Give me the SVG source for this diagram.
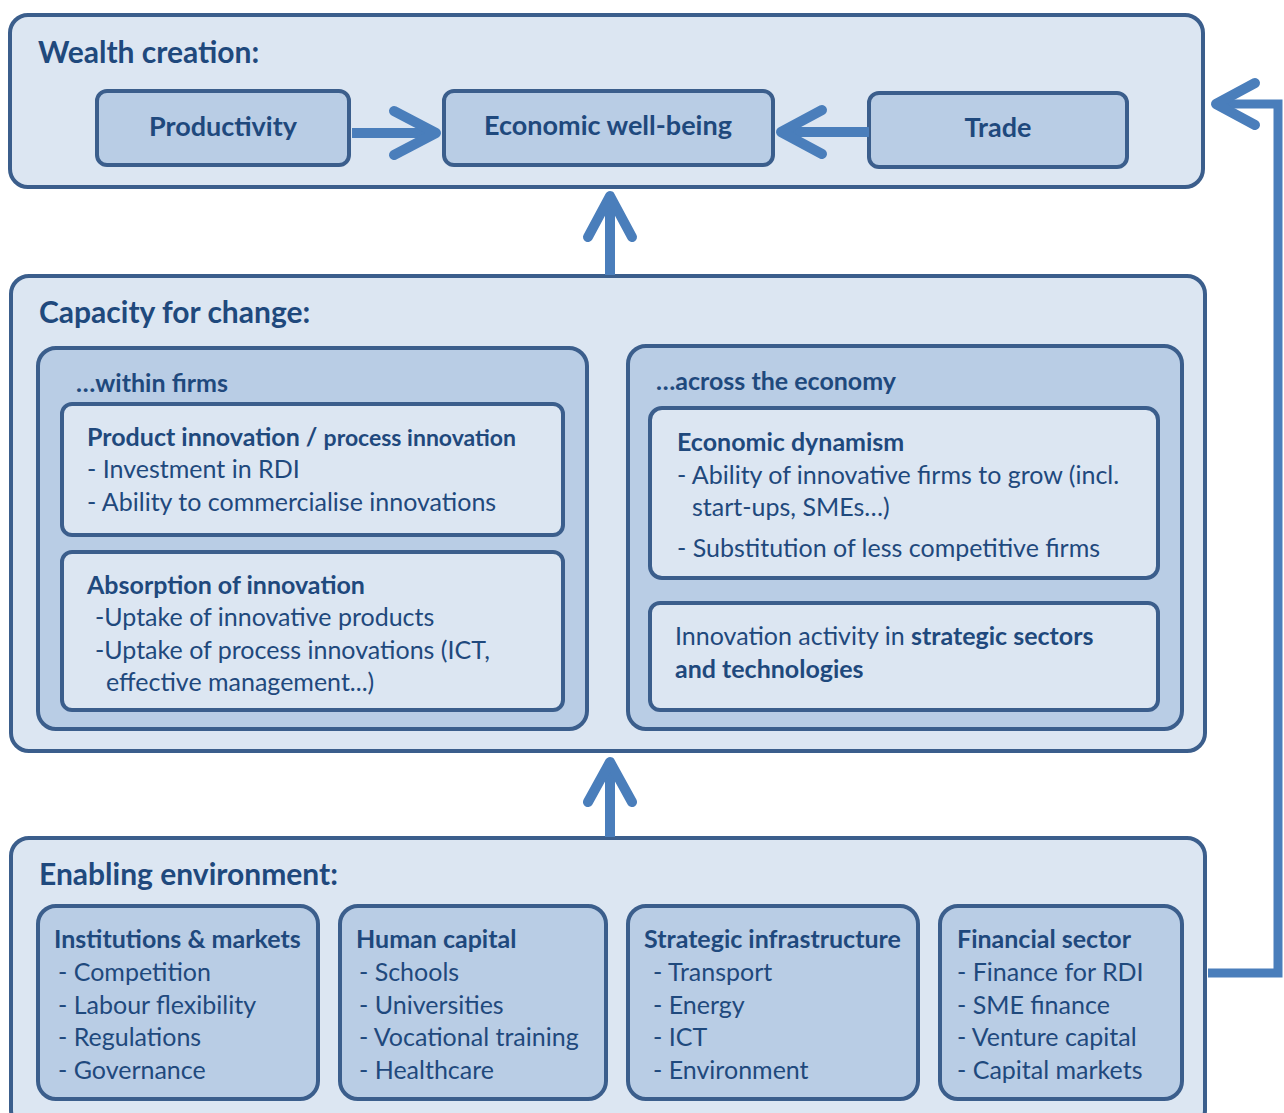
<svg xmlns="http://www.w3.org/2000/svg" width="1284" height="1113" viewBox="0 0 1284 1113">
<style>
text{font-family:Lato,"Open Sans","Liberation Sans",sans-serif;fill:#1F497D}
.outer{fill:#DCE6F2;stroke:#3B5E8C;stroke-width:4}
.mid{fill:#B9CDE5;stroke:#3B5E8C;stroke-width:4}
.inner{fill:#DCE6F2;stroke:#3B5E8C;stroke-width:4}
.h1{font-size:30px;font-weight:bold}
.h2{font-size:25px;font-weight:bold}
.t{font-size:25px}
.c{font-size:27px;font-weight:bold;text-anchor:middle}
.conn{fill:none;stroke:#4A7EBB;stroke-width:10;stroke-linecap:round;stroke-linejoin:round}
.line{fill:none;stroke:#4A7EBB;stroke-width:10}
</style>
<g id="wealth">
<rect class="outer" x="10" y="15" width="1193" height="172" rx="18"/>
<text class="h1" x="38" y="63">Wealth creation:</text>
</g>
<g id="productivity"><rect class="mid" x="97" y="91" width="252" height="74" rx="10"/><text class="c" x="223" y="136">Productivity</text></g>
<g id="wellbeing"><rect class="mid" x="444" y="91" width="329" height="74" rx="10"/><text class="c" x="608" y="135">Economic well-being</text></g>
<g id="trade"><rect class="mid" x="869" y="93" width="258" height="74" rx="10"/><text class="c" x="998" y="137">Trade</text></g>

<g id="capacity">
<rect class="outer" x="11" y="276" width="1194" height="475" rx="18"/>
<text class="h1" x="39" y="323">Capacity for change:</text>
</g>
<g id="within">
<rect class="mid" x="38" y="348" width="549" height="381" rx="18"/>
<text class="h2" x="76" y="392">…within firms</text>
</g>
<g id="product">
<rect class="inner" x="62" y="404" width="501" height="131" rx="10"/>
<text class="h2" x="87" y="446">Product innovation / <tspan font-size="23">process innovation</tspan></text>
<text class="t" x="87" y="478">- Investment in RDI</text>
<text class="t" x="87" y="511">- Ability to commercialise innovations</text>
</g>
<g id="absorption">
<rect class="inner" x="62" y="552" width="501" height="158" rx="10"/>
<text class="h2" x="87" y="594">Absorption of innovation</text>
<text class="t" x="95" y="626">-Uptake of innovative products</text>
<text class="t" x="95" y="659">-Uptake of process innovations (ICT,</text>
<text class="t" x="106" y="691">effective management...)</text>
</g>
<g id="across">
<rect class="mid" x="628" y="346" width="554" height="383" rx="18"/>
<text class="h2" x="656" y="390">…across the economy</text>
</g>
<g id="dynamism">
<rect class="inner" x="650" y="408" width="508" height="170" rx="12"/>
<text class="h2" x="677" y="451">Economic dynamism</text>
<text class="t" x="677" y="484">- Ability of innovative firms to grow (incl.</text>
<text class="t" x="692" y="516">start-ups, SMEs…)</text>
<text class="t" x="677" y="557">- Substitution of less competitive firms</text>
</g>
<g id="strategic">
<rect class="inner" x="650" y="603" width="508" height="107" rx="10"/>
<text class="t" x="675" y="645">Innovation activity in <tspan font-weight="bold">strategic sectors</tspan></text>
<text class="t" x="675" y="678" font-weight="bold">and technologies</text>
</g>

<g id="enabling">
<rect class="outer" x="11" y="838" width="1194" height="290" rx="18"/>
<text class="h1" x="39" y="885">Enabling environment:</text>
</g>
<g id="institutions">
<rect class="mid" x="38" y="906" width="280" height="193" rx="18"/>
<text class="h2" x="54" y="948">Institutions &amp; markets</text>
<text class="t" x="58" y="981">- Competition</text>
<text class="t" x="58" y="1014">- Labour flexibility</text>
<text class="t" x="58" y="1046">- Regulations</text>
<text class="t" x="58" y="1079">- Governance</text>
</g>
<g id="human">
<rect class="mid" x="340" y="906" width="266" height="193" rx="18"/>
<text class="h2" x="356" y="948">Human capital</text>
<text class="t" x="359" y="981">- Schools</text>
<text class="t" x="359" y="1014">- Universities</text>
<text class="t" x="359" y="1046">- Vocational training</text>
<text class="t" x="359" y="1079">- Healthcare</text>
</g>
<g id="infrastructure">
<rect class="mid" x="628" y="906" width="290" height="193" rx="18"/>
<text class="h2" x="644" y="948">Strategic infrastructure</text>
<text class="t" x="653" y="981">- Transport</text>
<text class="t" x="653" y="1014">- Energy</text>
<text class="t" x="653" y="1046">- ICT</text>
<text class="t" x="653" y="1079">- Environment</text>
</g>
<g id="financial">
<rect class="mid" x="940" y="906" width="242" height="193" rx="18"/>
<text class="h2" x="957" y="948">Financial sector</text>
<text class="t" x="957" y="981">- Finance for RDI</text>
<text class="t" x="957" y="1014">- SME finance</text>
<text class="t" x="957" y="1046">- Venture capital</text>
<text class="t" x="957" y="1079">- Capital markets</text>
</g>

<g id="connectors">
<path class="line" d="M352 133H436"/>
<path class="conn" d="M394 111L436 133L394 155"/>
<path class="line" d="M869 132H784"/>
<path class="conn" d="M822 110L781 132L822 154"/>
<path class="line" d="M610 275V196"/>
<path class="conn" d="M588 237L610 196L632 237"/>
<path class="line" d="M610 837V762"/>
<path class="conn" d="M588 802L610 762L632 802"/>
<path fill="none" stroke="#4A7EBB" stroke-width="9" d="M1208 973H1278V104H1222"/>
<path class="conn" d="M1255 83L1216 104L1255 125"/>
</g>
</svg>
